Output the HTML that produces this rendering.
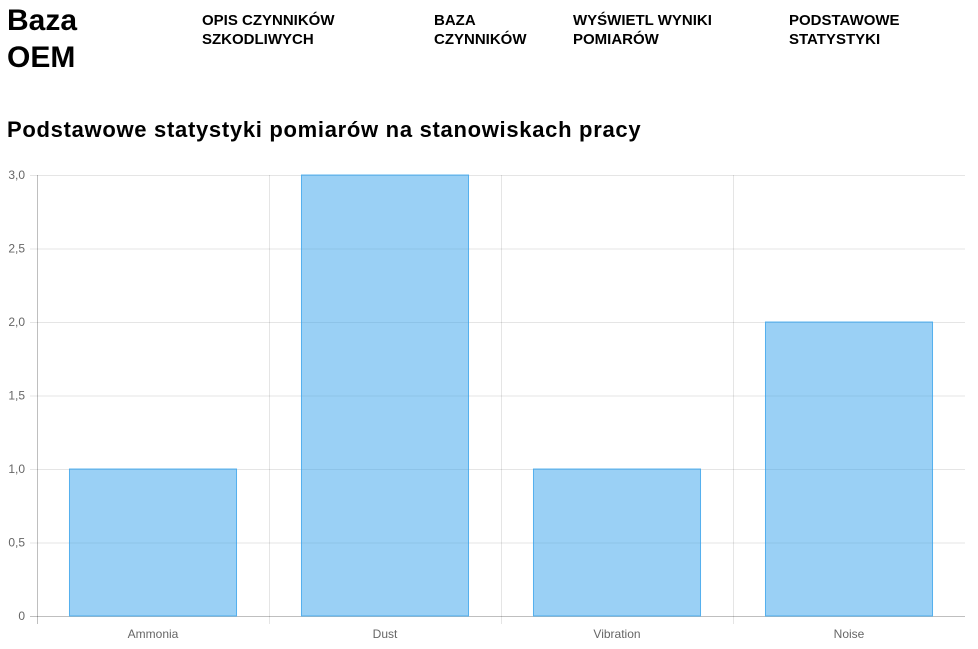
<!DOCTYPE html>
<html><head><meta charset="utf-8">
<style>
body{margin:0;width:978px;height:649px;overflow:hidden;background:#fff;font-family:"Liberation Sans",sans-serif;color:#000}
.logo{position:absolute;left:7px;top:2px;font-size:30px;font-weight:bold;line-height:37px}
.nav{position:absolute;top:11px;font-size:15px;font-weight:bold;line-height:19px}
h1{position:absolute;left:7px;top:117px;margin:0;font-size:22px;font-weight:bold;letter-spacing:0.7px}
svg{position:absolute;left:0;top:0}
</style></head><body>
<div class="logo">Baza<br>OEM</div>
<div class="nav" style="left:202px">OPIS CZYNNIKÓW<br>SZKODLIWYCH</div>
<div class="nav" style="left:434px">BAZA<br>CZYNNIKÓW</div>
<div class="nav" style="left:573px">WYŚWIETL WYNIKI<br>POMIARÓW</div>
<div class="nav" style="left:789px">PODSTAWOWE<br>STATYSTYKI</div>
<h1>Podstawowe statystyki pomiarów na stanowiskach pracy</h1>
<svg id="chart" width="978" height="649"></svg>
<script>
const categories=["Ammonia","Dust","Vibration","Noise"];
const values=[1,3,1,2];
const yTicks=[0,0.5,1,1.5,2,2.5,3];
const yTickLabels=["0","0,5","1,0","1,5","2,0","2,5","3,0"];
const svg=document.getElementById('chart');
const NS="http://www.w3.org/2000/svg";
const L=37,R=965,T=175,B=616,yMax=3;
const y=v=>B-(v/yMax)*(B-T);
const bw=(R-L)/categories.length;
const x=i=>L+bw*i;
function mk(t,a){const e=document.createElementNS(NS,t);for(const k in a)e.setAttribute(k,a[k]);svg.appendChild(e);return e;}
yTicks.forEach((v,i)=>{
  const g=mk('line',{x1:L-7,x2:R,y1:y(v)+0.5,y2:y(v)+0.5,stroke:i==0?'rgba(0,0,0,0.25)':'rgba(0,0,0,0.1)'});
  
  
  const t=mk('text',{x:L-12,y:y(v)+4,'text-anchor':'end','font-size':12,fill:'#666','font-family':'Liberation Sans, sans-serif'});
  t.textContent=yTickLabels[i];
  
  
});
for(let i=0;i<categories.length;i++){
  const g=mk('line',{x1:x(i)+0.5,x2:x(i)+0.5,y1:T,y2:B+8,stroke:i==0?'rgba(0,0,0,0.25)':'rgba(0,0,0,0.1)'});
  
  
}
categories.forEach((c,i)=>{
  const w=bw*0.72,cx=x(i)+bw/2;
  const r=mk('rect',{x:cx-w/2,y:y(values[i]),width:w,height:B-y(values[i]),fill:'rgba(54,162,235,0.5)',stroke:'rgba(54,162,235,0.8)','stroke-width':1});
  
  
  const t=mk('text',{x:cx,y:B+22,'text-anchor':'middle','font-size':12,fill:'#666','font-family':'Liberation Sans, sans-serif'});
  t.textContent=c;
  
  
});
</script>
</body></html>
